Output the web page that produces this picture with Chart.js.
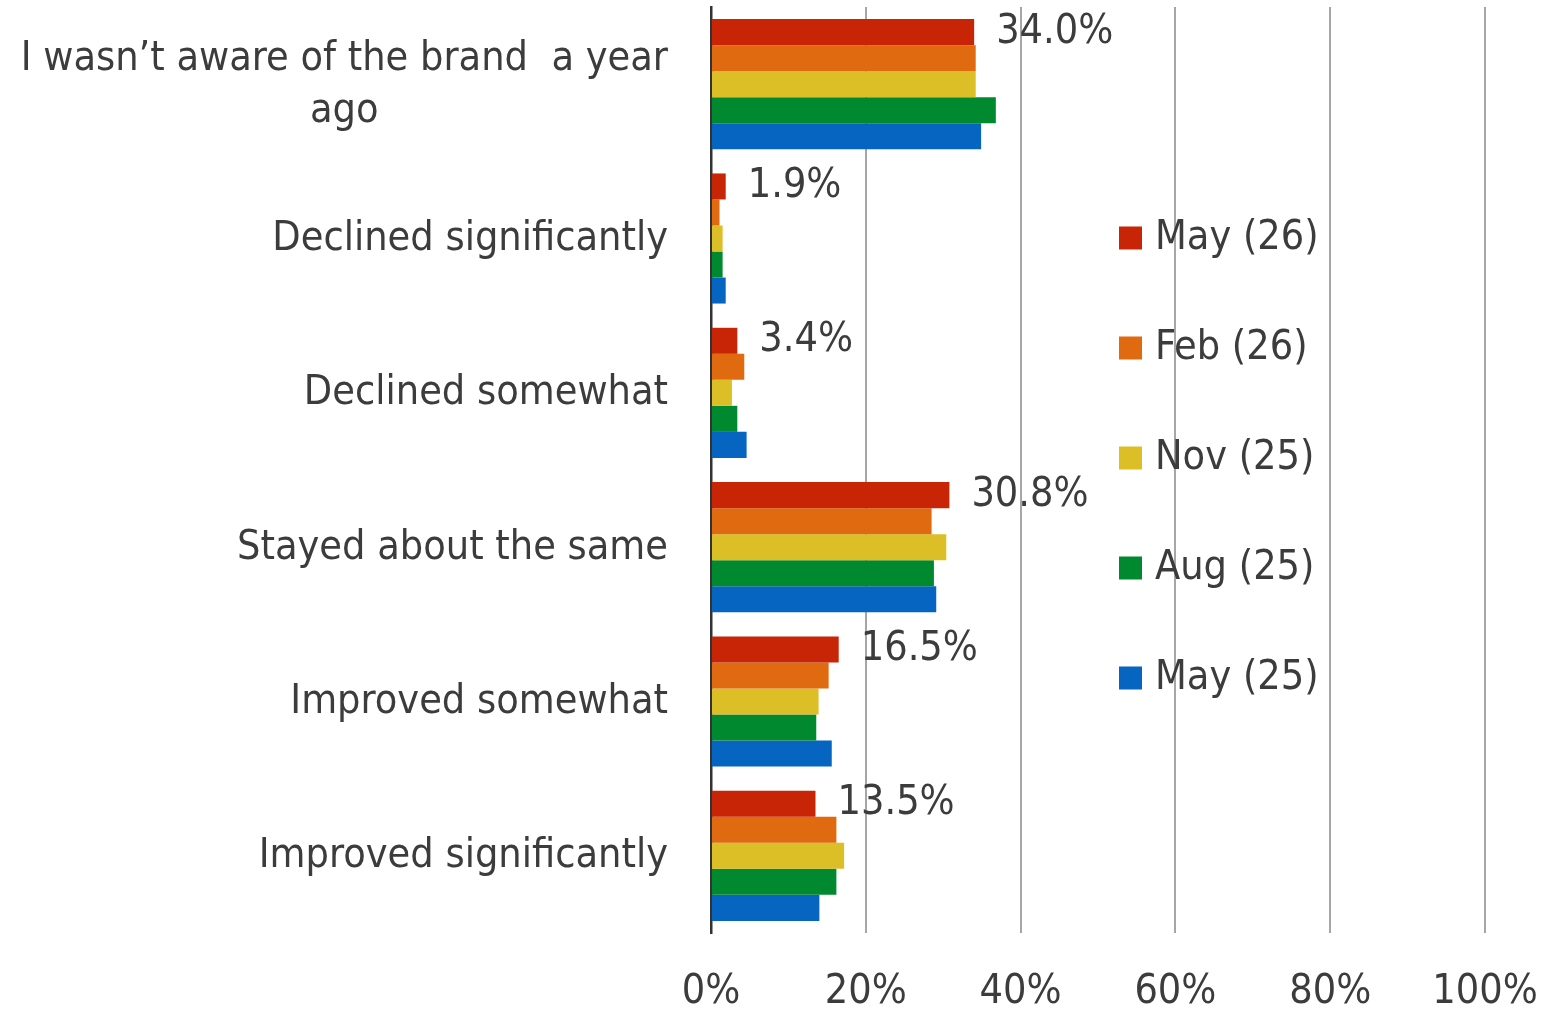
<!DOCTYPE html>
<html>
<head>
<meta charset="utf-8">
<script src="https://cdn.jsdelivr.net/npm/chart.js@4.4.1/dist/chart.umd.min.js"></script>
<style>
	html, body { margin: 0; padding: 0; background: #fff; }
	#wrap { width: 1557px; height: 1013px; position: relative; }
</style>
</head>
<body>
<div id="wrap"><canvas id="bar_BrandChange"></canvas></div>
<script>
	// 데이터
	const categories = [
		['I wasn’t aware of the brand  a year', 'ago'],
		'Declined significantly',
		'Declined somewhat',
		'Stayed about the same',
		'Improved somewhat',
		'Improved significantly'
	];
	const seriesNames = ['May (26)', 'Feb (26)', 'Nov (25)', 'Aug (25)', 'May (25)'];
	const may26 = [34.0, 1.9, 3.4, 30.8, 16.5, 13.5];
	const feb26 = [34.2, 1.1, 4.3, 28.5, 15.2, 16.2];
	const nov25 = [34.2, 1.5, 2.7, 30.4, 13.9, 17.2];
	const aug25 = [36.8, 1.5, 3.4, 28.8, 13.6, 16.2];
	const may25 = [34.9, 1.9, 4.6, 29.1, 15.6, 14.0];
	const xTicks = [0, 20, 40, 60, 80, 100];

	const colors = ['#c82506', '#e06a10', '#dcbe26', '#00892e', '#0565c0'];
	const FONT = "'DejaVu Sans Condensed', 'DejaVu Sans', sans-serif";
	const FONT_SIZE = 41;
	const TEXT_COLOR = '#3c3c3c';

	/**
	 * 카테고리 라벨 (여러 줄은 가운데 정렬, 전체는 오른쪽 정렬)
	 */
	const yLabelPlugin = {
		id: 'yLabels',
		afterDraw(chart) {
			const ctx = chart.ctx;
			const yScale = chart.scales.y;
			const right = 668;
			const lineH = 52;
			ctx.save();
			ctx.font = `${FONT_SIZE}px ${FONT}`;
			ctx.fillStyle = TEXT_COLOR;
			ctx.textBaseline = 'middle';
			ctx.textAlign = 'center';
			categories.forEach((cat, i) => {
				let lines = Array.isArray(cat) ? cat : [cat];
				let maxW = Math.max(...lines.map(l => ctx.measureText(l).width));
				let cx = right - maxW / 2;
				let cy = yScale.getPixelForValue(i) + 1;
				let startY = cy - (lines.length - 1) * lineH / 2;
				lines.forEach((l, j) => ctx.fillText(l, cx, startY + j * lineH));
			});
			ctx.restore();
		}
	};

	/**
	 * May (26) 값 라벨
	 */
	const valueLabelPlugin = {
		id: 'valueLabels',
		afterDatasetsDraw(chart) {
			const ctx = chart.ctx;
			const meta = chart.getDatasetMeta(0);
			ctx.save();
			ctx.font = `${FONT_SIZE}px ${FONT}`;
			ctx.fillStyle = TEXT_COLOR;
			ctx.textBaseline = 'middle';
			ctx.textAlign = 'left';
			meta.data.forEach((bar, i) => {
				ctx.fillText(may26[i].toFixed(1) + '%', bar.x + 22, bar.y);
			});
			ctx.restore();
		}
	};

	/**
	 * 범례 (차트 영역 안쪽)
	 */
	const legendPlugin = {
		id: 'innerLegend',
		afterDraw(chart) {
			const ctx = chart.ctx;
			ctx.save();
			ctx.font = `${FONT_SIZE}px ${FONT}`;
			ctx.textBaseline = 'middle';
			ctx.textAlign = 'left';
			chart.data.datasets.forEach((ds, i) => {
				let cy = 238 + i * 110;
				ctx.fillStyle = ds.backgroundColor;
				ctx.fillRect(1119, cy - 11.5, 23, 23);
				ctx.fillStyle = TEXT_COLOR;
				ctx.fillText(ds.label, 1155, cy);
			});
			ctx.restore();
		}
	};

	let setChartConfig = () => {
		let seriesData = [may26, feb26, nov25, aug25, may25];
		return {
			type: 'bar',
			data: {
				labels: categories,
				datasets: seriesData.map((d, i) => ({
					label: seriesNames[i],
					data: d,
					backgroundColor: colors[i],
					borderWidth: 0,
					categoryPercentage: 0.843,
					barPercentage: 1.0
				}))
			},
			options: {
				indexAxis: 'y',
				responsive: true,
				maintainAspectRatio: false,
				animation: false,
				layout: {
					padding: { left: 0, top: 7, right: 72, bottom: 0 }
				},
				plugins: {
					legend: { display: false },
					tooltip: { enabled: false }
				},
				scales: {
					x: {
						min: 0,
						max: 100,
						afterBuildTicks: (scale) => {
							scale.ticks = xTicks.map(v => ({ value: v }));
						},
						afterFit: (scale) => {
							scale.height = 80;
							scale.paddingLeft = 0;
							scale.paddingRight = 0;
						},
						ticks: {
							callback: (v) => v + '%',
							color: TEXT_COLOR,
							font: { family: FONT, size: FONT_SIZE },
							padding: 35,
							maxRotation: 0
						},
						grid: {
							color: (c) => c.tick && c.tick.value === 0 ? 'rgba(0,0,0,0)' : '#a6a6a6',
							lineWidth: 2,
							drawTicks: false
						},
						border: { display: false }
					},
					y: {
						afterFit: (scale) => { scale.width = 711; },
						ticks: { display: false },
						grid: { display: false, drawTicks: false },
						border: { display: true, color: '#333333', width: 2.5 }
					}
				}
			},
			plugins: [yLabelPlugin, valueLabelPlugin, legendPlugin]
		};
	};

	let brandChart = new Chart(document.getElementById('bar_BrandChange'), setChartConfig());
</script>
</body>
</html>
